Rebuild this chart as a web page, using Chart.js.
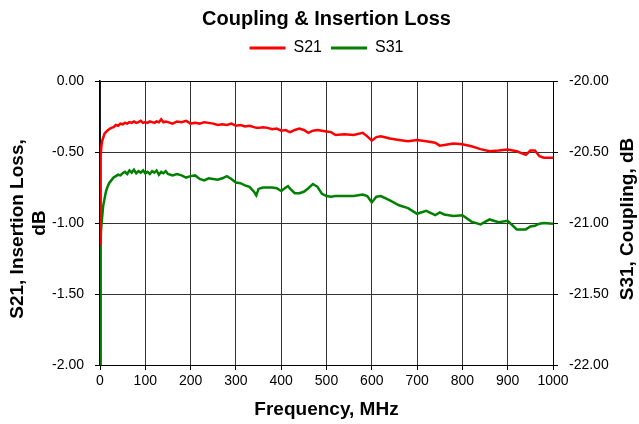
<!DOCTYPE html>
<html>
<head>
<meta charset="utf-8">
<script src="https://cdn.jsdelivr.net/npm/chart.js@4.4.0/dist/chart.umd.min.js"></script>
<style>
  html, body { margin: 0; padding: 0; background: #fff; }
  #chart { display: block; }
</style>
</head>
<body>
<canvas id="chart" width="639" height="424"></canvas>
<script>
  'use strict';

  // frequency, MHz
  const freq = [0, 1, 2, 3, 5, 7, 10, 13, 16, 20,
    25, 30, 35, 40, 45, 50, 55, 60, 65, 70,
    75, 80, 85, 90, 95, 100, 105, 110, 115, 120,
    125, 130, 135, 140, 145, 150, 160, 170, 180, 190,
    200, 210, 220, 230, 240, 250, 260, 270, 280, 290,
    300, 310, 320, 330, 340, 345, 350, 360, 370, 380,
    390, 400, 410, 415, 420, 430, 440, 450, 460, 470,
    480, 490, 500, 510, 520, 540, 560, 580, 590, 600,
    610, 620, 640, 660, 680, 700, 720, 740, 750, 760,
    780, 800, 820, 840, 860, 880, 900, 920, 940, 950,
    960, 970, 980, 1000];

  // S21 insertion loss, dB (left axis)
  const s21 = [-1.15, -0.75, -0.52, -0.46, -0.42, -0.40, -0.37, -0.36, -0.35, -0.34,
    -0.33, -0.325, -0.31, -0.315, -0.30, -0.305, -0.295, -0.30, -0.29, -0.295,
    -0.285, -0.295, -0.29, -0.28, -0.295, -0.29, -0.295, -0.285, -0.29, -0.295,
    -0.285, -0.29, -0.27, -0.29, -0.285, -0.29, -0.30, -0.285, -0.29, -0.28,
    -0.30, -0.295, -0.30, -0.29, -0.295, -0.30, -0.31, -0.305, -0.31, -0.30,
    -0.315, -0.31, -0.32, -0.315, -0.325, -0.33, -0.33, -0.325, -0.33, -0.34,
    -0.335, -0.35, -0.345, -0.355, -0.36, -0.345, -0.335, -0.345, -0.365, -0.35,
    -0.345, -0.35, -0.355, -0.36, -0.38, -0.375, -0.38, -0.365, -0.39, -0.42,
    -0.395, -0.39, -0.405, -0.415, -0.425, -0.415, -0.425, -0.435, -0.455, -0.45,
    -0.44, -0.445, -0.46, -0.48, -0.495, -0.49, -0.483, -0.495, -0.52, -0.49,
    -0.49, -0.53, -0.54, -0.54];

  // S31 coupling, dB (right axis)
  const s31 = [-22.00, -21.22, -21.10, -21.02, -20.95, -20.88, -20.83, -20.78, -20.75, -20.72,
    -20.70, -20.68, -20.67, -20.66, -20.665, -20.65, -20.64, -20.655, -20.63, -20.645,
    -20.625, -20.65, -20.635, -20.645, -20.63, -20.65, -20.64, -20.655, -20.635, -20.645,
    -20.63, -20.66, -20.64, -20.65, -20.635, -20.655, -20.665, -20.655, -20.665, -20.68,
    -20.67, -20.665, -20.69, -20.70, -20.685, -20.69, -20.695, -20.685, -20.67, -20.69,
    -20.715, -20.72, -20.735, -20.745, -20.78, -20.805, -20.76, -20.75, -20.75, -20.75,
    -20.755, -20.775, -20.75, -20.74, -20.76, -20.79, -20.79, -20.78, -20.755, -20.725,
    -20.745, -20.795, -20.81, -20.815, -20.81, -20.81, -20.81, -20.80, -20.81, -20.855,
    -20.815, -20.81, -20.84, -20.875, -20.895, -20.935, -20.915, -20.945, -20.925, -20.94,
    -20.95, -20.945, -20.99, -21.01, -20.975, -20.995, -20.985, -21.045, -21.045, -21.025,
    -21.02, -21.005, -21.00, -21.005];

  const xTicks = [0, 100, 200, 300, 400, 500, 600, 700, 800, 900, 1000];
  const leftTicks = [0, -0.5, -1, -1.5, -2];
  const rightTicks = [-20, -20.5, -21, -21.5, -22];

  const FONT = '"Liberation Sans", Arial, sans-serif';

  const toPoints = (ys) => freq.map((f, i) => ({ x: f, y: ys[i] }));

  // y axis titles: Excel style, both read bottom-to-top
  const axisTitles = {
    id: 'axisTitles',
    afterDraw(chart) {
      const { ctx, chartArea } = chart;
      const mid = (chartArea.top + chartArea.bottom) / 2;
      ctx.save();
      ctx.fillStyle = '#000';
      ctx.font = 'bold 19px ' + FONT;
      ctx.textAlign = 'center';
      ctx.textBaseline = 'middle';

      ctx.save();
      ctx.translate(18, mid + 6);
      ctx.rotate(-Math.PI / 2);
      ctx.fillText('S21, Insertion Loss,', 0, 0);
      ctx.fillText('dB', 6, 22);
      ctx.restore();

      ctx.translate(628, mid - 4);
      ctx.rotate(-Math.PI / 2);
      ctx.fillText('S31, Coupling, dB', 0, 0);
      ctx.restore();
    }
  };

  const edgeColor = (ctx) => (ctx.tick && ctx.tick.value === 0 ? '#000' : '#333');

  new Chart(document.getElementById('chart'), {
    type: 'line',
    data: {
      datasets: [{
        label: 'S21',
        data: toPoints(s21),
        yAxisID: 'y',
        borderColor: '#ff0000',
        backgroundColor: '#ff0000',
        borderWidth: 2.5,
        pointRadius: 0,
        tension: 0
      }, {
        label: 'S31',
        data: toPoints(s31),
        yAxisID: 'y1',
        borderColor: '#008000',
        backgroundColor: '#008000',
        borderWidth: 2.5,
        pointRadius: 0,
        tension: 0
      }]
    },
    options: {
      responsive: false,
      animation: false,
      layout: { padding: { left: 14, right: 0, top: 0, bottom: 0 } },
      plugins: {
        title: {
          display: true,
          text: 'Coupling & Insertion Loss',
          color: '#000',
          font: { family: FONT, size: 20, weight: 'bold' },
          padding: { top: 7, bottom: 0 }
        },
        // empty spacer between legend and plot
        subtitle: {
          display: true,
          position: 'top',
          weight: 500,
          text: ' ',
          font: { size: 1, lineHeight: 1 },
          padding: { top: 14, bottom: 0 }
        },
        legend: {
          labels: {
            color: '#000',
            font: { family: FONT, size: 16 },
            boxWidth: 36,
            boxHeight: 3,
            padding: 9,
            generateLabels: (chart) => Chart.defaults.plugins.legend.labels.generateLabels(chart)
              .map(l => Object.assign(l, { lineWidth: 0, fillStyle: l.strokeStyle }))
          }
        },
        tooltip: { enabled: false }
      },
      scales: {
        x: {
          type: 'linear',
          min: 0,
          max: 1000,
          afterBuildTicks: (scale) => { scale.ticks = xTicks.map(v => ({ value: v })); },
          afterFit: (scale) => { scale.height = 59; },
          ticks: {
            color: '#000',
            font: { family: FONT, size: 14 },
            padding: 3,
            maxRotation: 0,
            callback: (v) => String(v)
          },
          grid: { color: '#333', tickColor: '#000', tickLength: 5 },
          border: { color: '#000', width: 1 },
          title: {
            display: true,
            text: 'Frequency, MHz',
            color: '#000',
            font: { family: FONT, size: 19, weight: 'bold' },
            padding: { top: 0, bottom: 3 }
          }
        },
        y: {
          position: 'left',
          min: -2,
          max: 0,
          afterBuildTicks: (scale) => { scale.ticks = leftTicks.map(v => ({ value: v })); },
          afterFit: (scale) => { scale.width = 86; },
          ticks: {
            color: '#000',
            font: { family: FONT, size: 14 },
            padding: 11,
            callback: (v) => v.toFixed(2)
          },
          grid: { color: edgeColor, tickColor: '#000', tickLength: 5 },
          border: { color: '#000', width: 1.5 }
        },
        y1: {
          position: 'right',
          min: -22,
          max: -20,
          afterBuildTicks: (scale) => { scale.ticks = rightTicks.map(v => ({ value: v })); },
          afterFit: (scale) => { scale.width = 86; },
          ticks: {
            color: '#000',
            font: { family: FONT, size: 14 },
            padding: 11,
            callback: (v) => v.toFixed(2)
          },
          grid: { drawOnChartArea: false, tickColor: '#000', tickLength: 5 },
          border: { color: '#000', width: 1 }
        }
      }
    },
    plugins: [axisTitles]
  });
</script>
</body>
</html>
